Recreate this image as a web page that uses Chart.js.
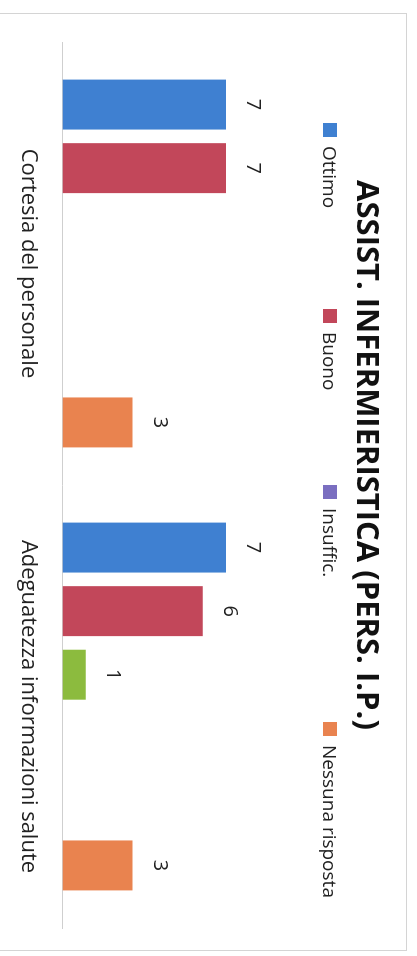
<!DOCTYPE html>
<html>
<head>
<meta charset="utf-8">
<script src="https://cdn.jsdelivr.net/npm/chart.js@4.4.1/dist/chart.umd.min.js"></script>
<style>
  html, body { margin: 0; padding: 0; background: #fff; }
  body { width: 417px; height: 956px; position: relative; overflow: hidden; }
  #frame {
    position: absolute; left: -2px; top: 13px; width: 409px; height: 938px;
    border: 1px solid #d4d4d4; box-sizing: border-box;
  }
  /* chart is laid out in its own orientation, then turned a quarter clockwise */
  #turn {
    position: absolute; left: 417px; top: 0; width: 956px; height: 417px;
    transform-origin: 0 0; transform: rotate(90deg);
  }
  #c { position: absolute; left: -30px; top: 0; }
  #legend { position: absolute; left: 0; top: 77px; height: 20px; width: 956px; }
  .item {
    position: absolute; top: 0; display: flex; align-items: center;
    font: 19px "Open Sans", sans-serif; color: #222; line-height: 20px; white-space: nowrap;
  }
  .item span.box { width: 14px; height: 14px; margin-right: 9px; display: inline-block; }
</style>
</head>
<body>
<div id="frame"></div>
<div id="turn">
  <canvas id="c" width="986" height="417" style="width:986px;height:417px"></canvas>
  <div id="legend"></div>
</div>
<script>
const categories = ["Cortesia del personale", "Adeguatezza informazioni salute"];
const seriesNames = ["Ottimo", "Buono", "Sufficiente", "Insuffic.", "Pessimo", "Nessuna risposta"];
const ottimo = [7, 7];
const buono = [7, 6];
const sufficiente = [null, 1];
const insufficiente = [null, null];
const pessimo = [null, null];
const nessunaRisposta = [3, 3];
const legendShown = ["Ottimo", "Buono", "Insuffic.", "Nessuna risposta"];
const valueMax = 9;

const colors = ["#3f80d1", "#c2475a", "#8cbb3e", "#7a6ec0", "#4bacc6", "#e9834f"];
const legendLeft = [123, 309, 485, 722];

const seriesData = [ottimo, buono, sufficiente, insufficiente, pessimo, nessunaRisposta];

// valori sopra le barre
const barLabels = {
  id: "barLabels",
  afterDatasetsDraw(chart) {
    const ctx = chart.ctx;
    ctx.save();
    ctx.font = '20px "Open Sans"';
    ctx.fillStyle = "#222";
    ctx.textAlign = "center";
    ctx.textBaseline = "middle";
    chart.data.datasets.forEach((ds, i) => {
      chart.getDatasetMeta(i).data.forEach((bar, j) => {
        const v = ds.data[j];
        if (v == null) return;
        ctx.fillText(String(v), bar.x, bar.y - 27);
      });
    });
    ctx.restore();
  }
};

const chart = new Chart(document.getElementById("c"), {
  type: "bar",
  data: {
    labels: categories,
    datasets: seriesNames.map((name, i) => ({
      label: name,
      data: seriesData[i],
      backgroundColor: colors[i],
      borderWidth: 0
    }))
  },
  options: {
    responsive: false,
    animation: false,
    devicePixelRatio: 1,
    categoryPercentage: 0.861,
    barPercentage: 0.786,
    layout: { padding: { left: 12, right: 28, top: 0, bottom: -6 } },
    plugins: {
      legend: { display: false },
      tooltip: { enabled: false },
      title: {
        display: true,
        text: "ASSIST. INFERMIERISTICA (PERS. I.P.)",
        color: "#111",
        font: { family: "Open Sans", size: 31, weight: "bold" },
        padding: { top: 33, bottom: 74 }
      }
    },
    scales: {
      x: {
        grid: { display: false, drawTicks: false },
        border: { display: true, color: "#cfcfcf", width: 1 },
        ticks: {
          color: "#222",
          padding: 21,
          maxRotation: 0,
          autoSkip: false,
          font: { family: "Open Sans", size: 22 }
        }
      },
      y: {
        min: 0,
        max: valueMax,
        grid: { display: false, drawTicks: false },
        border: { display: false },
        ticks: { display: false },
        afterFit(scale) { scale.width = 60; }
      }
    }
  },
  plugins: [barLabels]
});

// legenda HTML (solo le voci visibili nell'originale)
const legendBox = document.getElementById("legend");
chart.data.datasets.forEach((ds, i) => {
  const pos = legendShown.indexOf(ds.label);
  if (pos < 0) return;
  const item = document.createElement("div");
  item.className = "item";
  item.style.left = legendLeft[pos] + "px";
  item.innerHTML = `<span class="box" style="background:${ds.backgroundColor}"></span>${ds.label}`;
  legendBox.appendChild(item);
});
</script>
</body>
</html>
